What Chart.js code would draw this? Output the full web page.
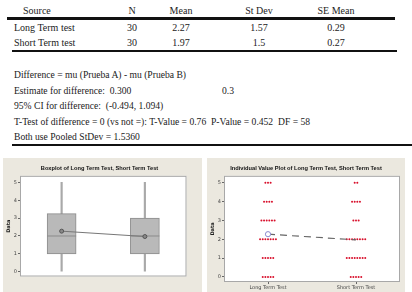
<!DOCTYPE html>
<html>
<head>
<meta charset="utf-8">
<script src="https://cdn.jsdelivr.net/npm/chart.js@4"></script>
<style>
  html, body { margin: 0; padding: 0; background: #fff; }
  body { width: 412px; height: 292px; position: relative; overflow: hidden;
         font-family: "Liberation Serif", "DejaVu Serif", serif; color: #222; }
  .t { position: absolute; font-size: 10px; white-space: pre; line-height: 12px; }
  .n { font-size: 9.6px; }
  .c { transform: translateX(-50%); }
  .rule { position: absolute; background: #111; }
  canvas { position: absolute; }
</style>
</head>
<body>
<div id="page"></div>
<canvas id="box" width="199" height="134" style="left:3px;top:158px;width:199px;height:134px"></canvas>
<canvas id="ivp" width="198" height="134" style="left:207px;top:158px;width:198px;height:134px"></canvas>
<script>
// table and test summary
var headers = ['Source', 'N', 'Mean', 'St Dev', 'SE Mean'];
var sources = ['Long Term test', 'Short Term test'];
var nValues = ['30', '30'];
var meanValues = ['2.27', '1.97'];
var sdValues = ['1.57', '1.5'];
var seValues = ['0.29', '0.27'];
var notes = [
    'Difference = mu (Prueba A) - mu (Prueba B)',
    'Estimate for difference:  0.300',
    '95% CI for difference:  (-0.494, 1.094)',
    'T-Test of difference = 0 (vs not =): T-Value = 0.76  P-Value = 0.452  DF = 58',
    'Both use Pooled StDev = 1.5360'
];

// chart data
var categories = ['Long Term Test', 'Short Term Test'];
var boxMin = [0, 0];
var boxQ1 = [1, 1];
var boxMedian = [2, 2];
var boxQ3 = [3.25, 3];
var boxMax = [5, 5];
var means = [2.27, 1.97];
var levels = [0, 1, 2, 3, 4, 5];
var longCounts = [5, 5, 7, 6, 4, 3];
var shortCounts = [5, 8, 8, 3, 4, 2];
var yTicks = [0, 1, 2, 3, 4, 5];

var page = document.getElementById('page');
function put(text, x, y, cls) {
    var d = document.createElement('div');
    d.className = 't' + (cls ? ' ' + cls : '');
    d.style.left = x + 'px';
    d.style.top = (y - 6) + 'px';
    d.textContent = text;
    page.appendChild(d);
}
function rule(x, y, w, h) {
    var d = document.createElement('div');
    d.className = 'rule';
    d.style.left = x + 'px'; d.style.top = y + 'px';
    d.style.width = w + 'px'; d.style.height = h + 'px';
    page.appendChild(d);
}

var colX = [132, 181, 259, 336];
put(headers[0], 23, 11);
headers.slice(1).forEach(function (h, i) { put(h, colX[i], 11, 'c'); });
rule(7, 17, 388, 3);
sources.forEach(function (s, r) {
    var y = 28 + r * 15;
    put(s, 14, y);
    [nValues[r], meanValues[r], sdValues[r], seValues[r]].forEach(function (v, i) { put(v, colX[i], y, 'c'); });
});
rule(12, 50, 385, 1.5);
var noteY = [75, 91, 106, 122, 137];
notes.forEach(function (n, i) { put(n, 14, noteY[i], 'n'); });
put('0.3', 222, 91, 'n');
rule(12, 144, 400, 2);

// plot background: beige panel, white area, grey frame
var panelBg = {
    id: 'panelBg',
    beforeDraw: function (chart) {
        var ctx = chart.ctx, a = chart.chartArea;
        ctx.save();
        ctx.fillStyle = '#ebe8df';
        ctx.fillRect(0, 0, chart.width, chart.height);
        ctx.fillStyle = '#ffffff';
        ctx.fillRect(a.left, a.top, a.right - a.left, a.bottom - a.top);
        ctx.restore();
    },
    afterDraw: function (chart) {
        var ctx = chart.ctx, a = chart.chartArea;
        ctx.save();
        ctx.strokeStyle = '#a8a8a8';
        ctx.lineWidth = 1;
        ctx.strokeRect(a.left + 0.5, a.top + 0.5, a.right - a.left - 1, a.bottom - a.top - 1);
        ctx.restore();
    }
};

var tickFont = { family: 'DejaVu Sans', size: 5 };
function yScale() {
    return {
        min: -0.27, max: 5.37,
        afterBuildTicks: function (s) { s.ticks = yTicks.map(function (v) { return { value: v }; }); },
        afterFit: function (s) { s.width = 14; },
        grid: { drawOnChartArea: false, drawTicks: true, tickLength: 2, color: '#666' },
        border: { display: false },
        ticks: { font: tickFont, color: '#444', padding: 1 },
        title: { display: true, text: 'Data', font: { family: 'DejaVu Sans', size: 5, weight: 'bold' }, color: '#222', padding: 0 }
    };
}
function titleOpt(text) {
    return { display: true, text: text, color: '#111',
             font: { family: 'Liberation Sans', size: 5.7, weight: 'bold' }, padding: { top: 6, bottom: 4 } };
}

Chart.defaults.animation = false;

new Chart(document.getElementById('box'), {
    type: 'bar',
    plugins: [panelBg],
    data: {
        labels: categories,
        datasets: [{
            type: 'line',
            data: means,
            borderColor: '#777',
            borderWidth: 1,
            pointRadius: 2,
            pointBackgroundColor: '#888',
            pointBorderColor: '#555',
            order: 1
        }, {
            type: 'line',
            data: boxMedian,
            showLine: false,
            pointStyle: 'line',
            pointRadius: 14.5,
            pointBorderColor: '#8a8a8a',
            pointBorderWidth: 1,
            order: 2
        }, {
            data: categories.map(function (c, i) { return [boxQ1[i], boxQ3[i]]; }),
            backgroundColor: '#b9b9b9',
            borderColor: '#8c8c8c',
            borderWidth: 1,
            borderSkipped: false,
            barThickness: 29,
            grouped: false,
            order: 3
        }, {
            data: categories.map(function (c, i) { return [boxMin[i], boxMax[i]]; }),
            backgroundColor: '#a9a9a9',
            barThickness: 1.5,
            grouped: false,
            order: 4
        }]
    },
    options: {
        responsive: false,
        layout: { padding: { left: 3, right: 9, top: 1, bottom: 0 } },
        plugins: { legend: { display: false }, tooltip: { enabled: false }, title: titleOpt('Boxplot of Long Term Test, Short Term Test') },
        scales: {
            x: {
                afterFit: function (s) { s.height = 10; },
                grid: { display: false },
                border: { display: false },
                ticks: { font: tickFont, color: '#444', padding: 2, maxRotation: 0 }
            },
            y: yScale()
        }
    }
});

function dots(counts, cat) {
    var pts = [];
    counts.forEach(function (n, k) {
        for (var i = 0; i < n; i++) pts.push({ x: cat + (i - (n - 1) / 2) * 0.03, y: levels[k] });
    });
    return pts;
}

new Chart(document.getElementById('ivp'), {
    type: 'scatter',
    plugins: [panelBg],
    data: {
        datasets: [{
            data: dots(longCounts, 1).concat(dots(shortCounts, 2)),
            pointRadius: 1,
            pointBackgroundColor: '#d8102c',
            pointBorderWidth: 0,
            order: 2
        }, {
            type: 'line',
            data: means.map(function (m, i) { return { x: i + 1, y: m }; }),
            borderColor: '#666',
            borderWidth: 1.2,
            borderDash: [7, 5],
            pointRadius: [2.6, 0],
            pointBackgroundColor: '#fff',
            pointBorderColor: '#8a8ad0',
            pointBorderWidth: 1,
            order: 1
        }]
    },
    options: {
        responsive: false,
        layout: { padding: { left: 3, right: 3, top: 1, bottom: 0 } },
        plugins: { legend: { display: false }, tooltip: { enabled: false }, title: titleOpt('Individual Value Plot of Long Term Test, Short Term Test') },
        scales: {
            x: {
                type: 'linear', min: 0.5, max: 2.5,
                afterBuildTicks: function (s) { s.ticks = [{ value: 1 }, { value: 2 }]; },
                afterFit: function (s) { s.height = 10; },
                grid: { drawOnChartArea: false, drawTicks: true, tickLength: 2, color: '#666' },
                border: { display: false },
                ticks: { font: tickFont, color: '#444', padding: 1, maxRotation: 0,
                         callback: function (v) { return categories[v - 1]; } }
            },
            y: yScale()
        }
    }
});
</script>
</body>
</html>
